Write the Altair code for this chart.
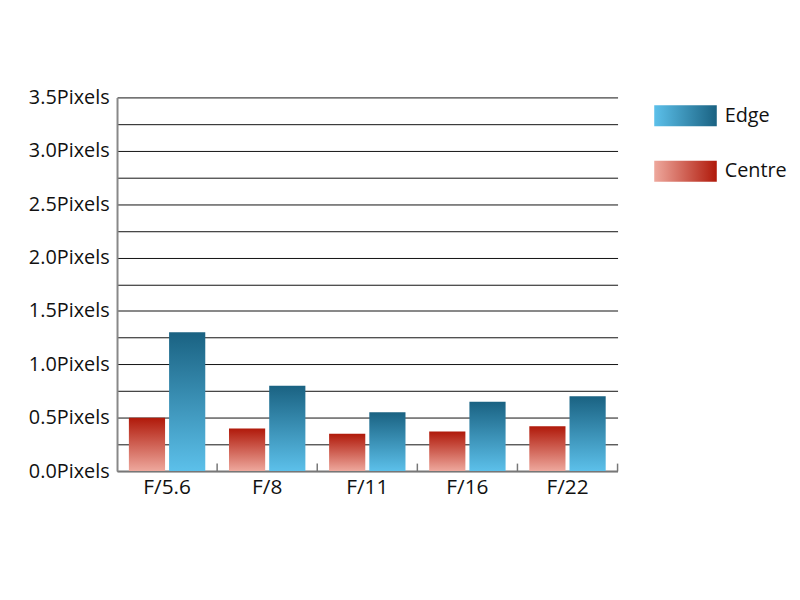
import altair as alt
import pandas as pd

apertures = ["F/5.6", "F/8", "F/11", "F/16", "F/22"]
centre = [0.50, 0.40, 0.35, 0.37, 0.42]
edge = [1.30, 0.80, 0.55, 0.65, 0.70]
series_order = ["Centre", "Edge"]
legend_order = ["Edge", "Centre"]
y_ticks = [0.0, 0.25, 0.5, 0.75, 1.0, 1.25, 1.5, 1.75, 2.0, 2.25, 2.5, 2.75, 3.0, 3.25, 3.5]

df = pd.DataFrame({
    "aperture": apertures * 2,
    "series": ["Centre"] * len(apertures) + ["Edge"] * len(apertures),
    "value": centre + edge,
})
tick_df = pd.DataFrame({"aperture": apertures})
legend_df = pd.DataFrame({"series": legend_order, "start": [0, 0], "end": [1, 1]})

FONT = "Open Sans"
EDGE_LIGHT, EDGE_DARK = "#5cc0ea", "#1a6282"
CEN_LIGHT, CEN_DARK = "#eea89d", "#b0190a"


def grad(light, dark, horizontal=False):
    if horizontal:
        coords = dict(x1=0, x2=1, y1=0, y2=0)
    else:
        coords = dict(x1=0, x2=0, y1=1, y2=0)
    return alt.Gradient(gradient="linear", **coords,
                        stops=[alt.GradientStop(color=light, offset=0),
                               alt.GradientStop(color=dark, offset=1)])


x_axis = alt.Axis(title=None, ticks=False, labelFontSize=21, labelFont=FONT,
                  labelColor="#111", labelPadding=6, domainColor="#777",
                  domainWidth=2, labelAngle=0)
y_axis = alt.Axis(title=None, values=y_ticks, ticks=False, grid=True,
                  gridColor="#111", gridWidth=1, gridOpacity=1,
                  domainColor="#888", domainWidth=2,
                  labelFont=FONT, labelFontSize=20, labelColor="#111", labelPadding=8,
                  labelExpr="(datum.value * 2) % 1 == 0 ? format(datum.value, '.1f') + 'Pixels' : ''")
x_scale = alt.Scale(paddingInner=0, paddingOuter=0)
y_scale = alt.Scale(domain=[0, 3.5], nice=False)

x_enc = alt.X("aperture:N", sort=apertures, scale=x_scale, axis=x_axis)
xoff_enc = alt.XOffset("series:N", sort=series_order,
                       scale=alt.Scale(domain=series_order, paddingInner=0.1, paddingOuter=0.295))
y_enc = alt.Y("value:Q", scale=y_scale, axis=y_axis)

base = alt.Chart(df)
centre_bars = base.transform_filter(alt.datum.series == "Centre").mark_bar(
    color=grad(CEN_LIGHT, CEN_DARK)).encode(x=x_enc, xOffset=xoff_enc, y=y_enc)
edge_bars = base.transform_filter(alt.datum.series == "Edge").mark_bar(
    color=grad(EDGE_LIGHT, EDGE_DARK)).encode(x=x_enc, xOffset=xoff_enc, y=y_enc)
ticks = alt.Chart(tick_df).mark_rule(color="#777", strokeWidth=1.5).encode(
    x=alt.X("aperture:N", sort=apertures, bandPosition=1, scale=x_scale, axis=x_axis),
    y=alt.Y(datum=0, scale=y_scale, axis=y_axis), y2=alt.datum(0.07))

main = alt.layer(centre_bars, edge_bars, ticks).properties(width=505, height=377)

# legend panel
lx_scale = alt.Scale(domain=[0, 2.06], nice=False)
lx = alt.X("start:Q", scale=lx_scale, axis=None)
ly = alt.Y("series:N", sort=legend_order,
           scale=alt.Scale(domain=legend_order, paddingInner=0.625, paddingOuter=0.143), axis=None)
lbase = alt.Chart(legend_df)
leg_edge = lbase.transform_filter(alt.datum.series == "Edge").mark_bar(
    color=grad(EDGE_LIGHT, EDGE_DARK, True)).encode(x=lx, x2="end:Q", y=ly)
leg_centre = lbase.transform_filter(alt.datum.series == "Centre").mark_bar(
    color=grad(CEN_LIGHT, CEN_DARK, True)).encode(x=lx, x2="end:Q", y=ly)
leg_text = lbase.mark_text(align="left", dx=8, font=FONT, fontSize=20, color="#111").encode(
    x=alt.X("end:Q", scale=lx_scale, axis=None), y=ly, text="series:N")
legend_panel = alt.layer(leg_edge, leg_centre, leg_text).properties(width=130, height=93)

chart = alt.hconcat(main, legend_panel, spacing=36).properties(
    padding={"left": 20, "top": 78, "right": 5, "bottom": 5},
    background="white",
).configure_view(stroke=None)

chart.save("out.html", embed_options={"renderer": "svg", "actions": False})
